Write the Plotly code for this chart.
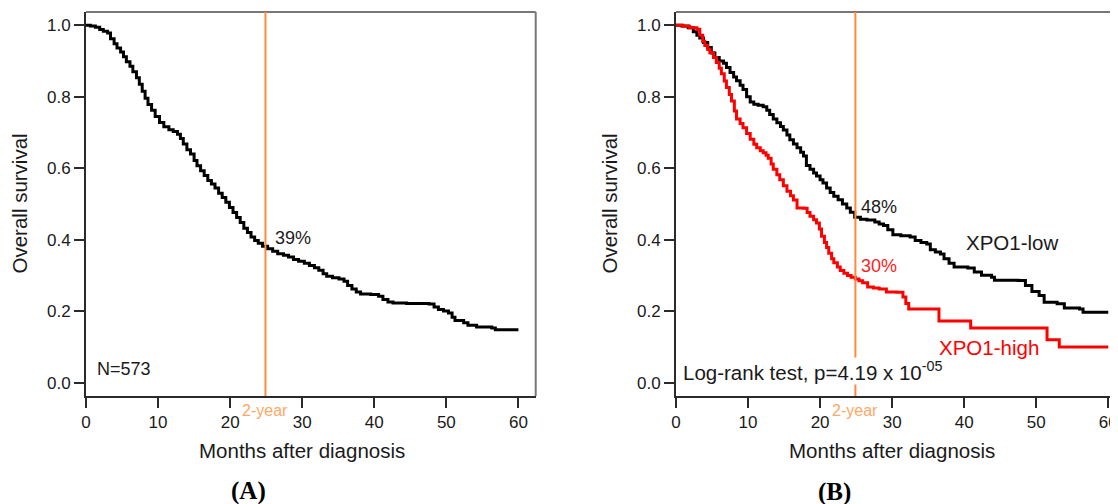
import plotly.graph_objects as go

# The page body adds an 8px margin; lay out in page pixels and shift.
PAGE_W, PAGE_H = 1118, 504
OFF = 8
W, H = PAGE_W - OFF, PAGE_H - OFF


def px(x):
    return (x - OFF) / W


def py(y):
    return 1 - (y - OFF) / H


# ---------------- data ----------------
x_ticks = [0, 10, 20, 30, 40, 50, 60]
y_ticks = [0.0, 0.2, 0.4, 0.6, 0.8, 1.0]
two_year = 24.9

# Panel A: all patients
a_time = [0, 0.6, 1.3, 1.9, 2.4, 3.0, 3.4, 3.9, 4.3, 4.8, 5.2, 5.6, 6.1, 6.5, 7.0, 7.4, 7.8, 8.2,
          8.6, 9.1, 9.6, 10.2, 10.8, 11.5, 12.1, 12.7, 13.1, 13.5, 14.0, 14.5, 15.0, 15.4, 15.9,
          16.4, 16.9, 17.4, 17.9, 18.4, 18.9, 19.4, 19.9, 20.4, 20.9, 21.4, 21.9, 22.4, 22.9, 23.4,
          23.9, 24.5, 25.2, 25.9, 26.6, 27.4, 28.1, 28.8, 29.5, 30.3, 31.0, 31.7, 32.3, 32.9, 33.4,
          34.2, 35.1, 35.8, 36.3, 36.9, 37.5, 38.1, 39.5, 40.6, 41.2, 41.9, 42.6, 44.5, 46.4, 47.6,
          48.3, 48.9, 49.6, 50.3, 50.8, 51.2, 52.4, 53.0, 54.2, 56.3, 56.8, 60]
a_surv = [1.0, 0.998, 0.994, 0.988, 0.983, 0.978, 0.962, 0.948, 0.936, 0.925, 0.912, 0.898, 0.885,
          0.870, 0.853, 0.835, 0.815, 0.796, 0.778, 0.762, 0.745, 0.728, 0.716, 0.708, 0.703, 0.695,
          0.683, 0.668, 0.652, 0.640, 0.622, 0.607, 0.593, 0.580, 0.566, 0.556, 0.545, 0.530, 0.518,
          0.505, 0.490, 0.476, 0.462, 0.448, 0.432, 0.420, 0.408, 0.398, 0.390, 0.382, 0.375, 0.368,
          0.361, 0.357, 0.352, 0.345, 0.340, 0.334, 0.328, 0.322, 0.315, 0.305, 0.298, 0.294, 0.290,
          0.284, 0.272, 0.262, 0.254, 0.248, 0.247, 0.242, 0.233, 0.226, 0.223, 0.222, 0.222, 0.220,
          0.212, 0.205, 0.201, 0.195, 0.183, 0.174, 0.168, 0.161, 0.156, 0.153, 0.148, 0.148]

# Panel B: XPO1-low
low_time = [0, 0.8, 1.7, 2.4, 2.9, 3.3, 3.8, 4.4, 4.9, 5.4, 6.0, 6.6, 7.0, 7.5, 8.0, 8.4, 8.9, 9.3,
            9.8, 10.3, 10.8, 11.4, 12.1, 12.6, 13.0, 13.5, 14.0, 14.5, 14.9, 15.4, 15.8, 16.3, 16.8,
            17.3, 17.7, 18.1, 18.6, 19.1, 19.5, 20.0, 20.4, 20.9, 21.4, 21.9, 22.5, 23.1, 23.7, 24.2,
            24.8, 25.6, 26.5, 27.6, 28.2, 28.8, 29.4, 30.1, 31.2, 32.5, 33.2, 34.0, 34.8, 35.3, 36.0,
            36.7, 37.2, 37.9, 38.6, 40.5, 41.4, 42.4, 43.8, 44.2, 46.0, 47.5, 48.5, 49.4, 50.4, 51.1,
            52.9, 53.9, 56.0, 56.5, 60]
low_surv = [1.0, 0.998, 0.993, 0.982, 0.972, 0.964, 0.952, 0.938, 0.922, 0.910, 0.900, 0.894, 0.882,
            0.868, 0.855, 0.845, 0.832, 0.820, 0.800, 0.785, 0.779, 0.776, 0.772, 0.762, 0.750, 0.738,
            0.727, 0.717, 0.707, 0.693, 0.680, 0.668, 0.657, 0.645, 0.634, 0.608, 0.597, 0.587, 0.578,
            0.568, 0.559, 0.545, 0.532, 0.522, 0.512, 0.500, 0.489, 0.477, 0.463, 0.457, 0.455, 0.450,
            0.444, 0.440, 0.428, 0.414, 0.411, 0.408, 0.398, 0.392, 0.388, 0.372, 0.366, 0.360, 0.347,
            0.334, 0.324, 0.321, 0.310, 0.301, 0.295, 0.287, 0.287, 0.286, 0.272, 0.255, 0.244, 0.225,
            0.221, 0.209, 0.206, 0.197, 0.197]

# Panel B: XPO1-high
high_time = [0, 1.0, 1.9, 2.9, 3.3, 3.7, 4.0, 4.4, 4.7, 5.2, 5.6, 6.0, 6.3, 6.7, 7.0, 7.4, 7.7, 8.1,
             8.4, 8.9, 9.3, 9.8, 10.3, 10.8, 11.2, 11.7, 12.1, 12.5, 12.8, 13.2, 13.5, 14.0, 14.4,
             14.9, 15.4, 15.9, 16.3, 16.8, 17.7, 18.2, 18.6, 19.1, 19.5, 19.9, 20.2, 20.6, 20.9, 21.2,
             21.6, 21.9, 22.4, 22.8, 23.3, 23.8, 24.3, 24.9, 25.4, 25.9, 26.6, 27.4, 28.2, 29.2, 30.6,
             31.5, 31.9, 32.3, 35.8, 36.5, 40.2, 40.9, 51.1, 51.5, 52.9, 53.2, 60]
high_surv = [1.0, 0.997, 0.993, 0.989, 0.972, 0.955, 0.943, 0.932, 0.923, 0.910, 0.896, 0.880, 0.864,
             0.844, 0.826, 0.806, 0.788, 0.760, 0.738, 0.725, 0.713, 0.697, 0.681, 0.667, 0.657, 0.649,
             0.643, 0.636, 0.628, 0.612, 0.597, 0.582, 0.568, 0.551, 0.536, 0.523, 0.511, 0.489, 0.488,
             0.476, 0.466, 0.456, 0.447, 0.430, 0.410, 0.392, 0.378, 0.362, 0.347, 0.336, 0.324, 0.314,
             0.306, 0.300, 0.295, 0.290, 0.285, 0.280, 0.268, 0.265, 0.262, 0.254, 0.253, 0.240, 0.222,
             0.206, 0.206, 0.173, 0.173, 0.153, 0.153, 0.120, 0.120, 0.100, 0.100]

# ---------------- styling ----------------
FONT = "Liberation Sans, Arial, sans-serif"
SERIF = "Liberation Serif, Times New Roman, serif"
ORANGE = "#FF8A38"
ORANGE_LIGHT = "#FFA866"
AXC = "#2a2a2a"
LW = 3
TICK_SIZE = 17

fig = go.Figure()
fig.add_trace(go.Scatter(x=a_time, y=a_surv, mode="lines", line=dict(color="black", width=LW, shape="hv"),
                         xaxis="x", yaxis="y", showlegend=False, hoverinfo="skip"))
fig.add_trace(go.Scatter(x=low_time, y=low_surv, mode="lines", line=dict(color="black", width=LW, shape="hv"),
                         xaxis="x2", yaxis="y2", showlegend=False, hoverinfo="skip"))
fig.add_trace(go.Scatter(x=high_time, y=high_surv, mode="lines", line=dict(color="#FF0000", width=LW, shape="hv"),
                         xaxis="x2", yaxis="y2", showlegend=False, hoverinfo="skip"))

ydom = [py(396), py(12)]
common_x = dict(tickvals=x_ticks, ticks="outside", ticklen=10, tickwidth=1.8, tickcolor=AXC,
                showline=True, linecolor=AXC, linewidth=1.8, showgrid=False, zeroline=False,
                tickfont=dict(family=FONT, size=TICK_SIZE, color="#1a1a1a"), automargin=False,
                fixedrange=True)
common_y = dict(tickvals=y_ticks, tickformat=".1f", ticks="outside", ticklen=10, tickwidth=1.8,
                tickcolor=AXC, showline=True, linecolor=AXC, linewidth=1.8, showgrid=False,
                zeroline=False, range=[-0.037, 1.037], domain=ydom,
                tickfont=dict(family=FONT, size=TICK_SIZE, color="#1a1a1a"), automargin=False,
                fixedrange=True)

fig.update_layout(
    width=W, height=H, margin=dict(l=0, r=0, t=0, b=0),
    paper_bgcolor="white", plot_bgcolor="white", template="none",
    xaxis=dict(domain=[px(86), px(535.7)], range=[0, 62.4], anchor="y", **common_x),
    yaxis=dict(anchor="x", **common_y),
    xaxis2=dict(domain=[px(676), 1.0], range=[0, 61.35], anchor="y2", **common_x),
    yaxis2=dict(anchor="x2", **common_y),
)

BOX = "#777777"
shapes = [
    dict(type="line", xref="x domain", yref="y domain", x0=0, x1=1, y0=1, y1=1, line=dict(color=BOX, width=2)),
    dict(type="line", xref="x domain", yref="y domain", x0=1, x1=1, y0=0, y1=1, line=dict(color=BOX, width=2)),
    dict(type="line", xref="x2 domain", yref="y2 domain", x0=0, x1=1, y0=1, y1=1, line=dict(color=BOX, width=2)),
    dict(type="line", xref="x", yref="y domain", x0=two_year, x1=two_year, y0=0, y1=1,
         line=dict(color=ORANGE, width=2), layer="above"),
    dict(type="line", xref="x2", yref="y2 domain", x0=two_year, x1=two_year, y0=0, y1=1,
         line=dict(color=ORANGE, width=2), layer="above"),
]
fig.update_layout(shapes=shapes)


def ann(text, x, y, xref, yref, size=18, color="#1a1a1a", xanchor="left", yanchor="middle",
        family=FONT, **kw):
    return dict(text=text, x=x, y=y, xref=xref, yref=yref, showarrow=False, xanchor=xanchor,
                yanchor=yanchor, font=dict(family=family, size=size, color=color), **kw)


annotations = [
    ann("39%", 25.9, 0.405, "x", "y"),
    ann("N=573", 1.25, 0.038, "x", "y"),
    ann("48%", 25.4, 0.4925, "x2", "y2"),
    ann("30%", 25.45, 0.327, "x2", "y2", color="#FF2020"),
    ann("XPO1-low", 40.0, 0.391, "x2", "y2", size=20.5),
    ann("XPO1-high", 36.2, 0.099, "x2", "y2", size=20.5, color="#FF0000"),
    ann("Log-rank test, p=4.19 x 10<sup>-05</sup>", 0.9, 0.033, "x2", "y2", size=20.5,
        bgcolor="white", borderpad=0),
    ann("2-year", two_year, py(410), "x", "paper", size=16, color=ORANGE_LIGHT, xanchor="center"),
    ann("2-year", two_year, py(410), "x2", "paper", size=16, color=ORANGE_LIGHT, xanchor="center"),
    ann("Months after diagnosis", 30, py(450), "x", "paper", size=20.5, xanchor="center"),
    ann("Months after diagnosis", 30, py(450), "x2", "paper", size=20.5, xanchor="center"),
    ann("Overall survival", px(18.5), 0.5, "paper", "y domain", size=20.5, xanchor="center", textangle=-90),
    ann("Overall survival", px(608.5), 0.5, "paper", "y2 domain", size=20.5, xanchor="center", textangle=-90),
    ann("<b>(A)</b>", px(248), py(491), "paper", "paper", size=25, color="black", xanchor="center",
        family=SERIF),
    ann("<b>(B)</b>", px(834), py(492), "paper", "paper", size=25, color="black", xanchor="center",
        family=SERIF),
]
fig.update_layout(annotations=annotations)

fig.write_html("out.html")
